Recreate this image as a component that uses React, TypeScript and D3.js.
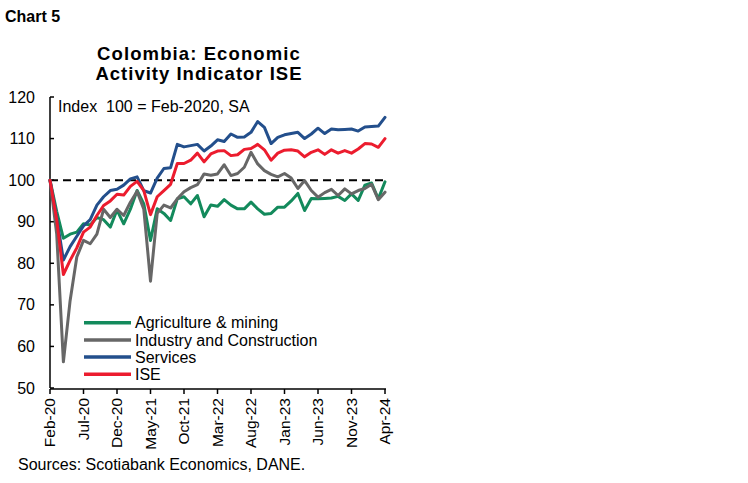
import React from "react";
import * as d3 from "d3";

const months: string[] = d3
  .timeMonths(new Date(2020, 1, 1), new Date(2024, 4, 1))
  .map((d) => d3.timeFormat("%b-%y")(d));

const tickLabels = ["Feb-20", "Jul-20", "Dec-20", "May-21", "Oct-21", "Mar-22", "Aug-22", "Jan-23", "Jun-23", "Nov-23", "Apr-24"];
const yTicks = [50, 60, 70, 80, 90, 100, 110, 120];

const agriculture = [100, 92.5, 86, 87, 87.5, 89.5, 89.2, 91, 90.5, 88.7, 92.8, 89.5, 93, 97.5, 94.3, 85.5, 93.1, 92, 90.3, 95.5, 96, 94.3, 96.3, 91.2, 94, 93.7, 95.3, 94, 93.1, 93.1, 94.7, 93.1, 91.8, 92, 93.5, 93.5, 95, 96.8, 92.7, 95.6, 95.5, 95.6, 95.7, 96.1, 95.1, 96.7, 95.1, 98.8, 99.3, 95.5, 99.6];
const industry = [100, 87, 56.3, 71, 81.5, 85.5, 84.7, 87, 93, 91, 93, 91.5, 94.7, 97.3, 93, 75.7, 92, 94, 93.3, 95.5, 97.2, 98.2, 98.9, 101.5, 101.2, 101.5, 103.7, 101.1, 101.6, 103.1, 106.7, 103.9, 102.3, 101.4, 100.8, 101.6, 100.5, 98, 99.9, 97.5, 95.9, 97, 97.8, 96.3, 97.9, 96.7, 97.5, 98, 99, 95.3, 97.1];
const services = [100, 91, 80.8, 84, 86.5, 89, 90.5, 94, 96, 97.5, 97.8, 98.8, 100.3, 100.8, 97.5, 96.9, 100.5, 102.8, 103, 108.6, 108, 108.3, 108.6, 107, 108.2, 109.7, 109.3, 111.1, 110.3, 110.4, 111.5, 114.1, 112.7, 108.8, 110.3, 110.9, 111.2, 111.5, 110, 111.1, 112.5, 111.2, 112.3, 112.1, 112.2, 112.3, 111.8, 112.8, 112.9, 113, 115.1];
const ise = [100, 90.5, 77.3, 80.7, 83.7, 87.5, 88.7, 91.5, 93.9, 95, 96.6, 96.4, 98.5, 99.7, 97.5, 91.7, 96, 97.5, 99, 104, 104, 104.8, 106.5, 104.4, 106.3, 107, 107.1, 105.9, 106.1, 107.4, 107.6, 108.6, 107.3, 104.8, 106.5, 107.2, 107.3, 107, 105.6, 106.7, 107.3, 106.2, 107.3, 106.5, 107.1, 106.5, 107.5, 108.8, 108.7, 107.9, 110];

const seriesNames = ["Agriculture & mining", "Industry and Construction", "Services", "ISE"];
const seriesColors = ["#138a5c", "#676767", "#234f8c", "#ec1c2e"];
const seriesValues = [agriculture, industry, services, ise];

const FONT = "'Liberation Sans', Arial, sans-serif";

export default function App() {
  const x = d3.scaleLinear().domain([0, months.length - 1]).range([50, 385]);
  const y = d3.scaleLinear().domain([50, 120]).range([388, 97]);
  const line = d3
    .line<number>()
    .x((_, i) => x(i))
    .y((v) => y(v));

  return (
    <svg
      width={748}
      height={483}
      style={{ position: "absolute", left: 0, top: 0, background: "#fff" }}
      fontFamily={FONT}
    >
      <text x={5} y={21.5} fontSize={16} fontWeight="bold" fill="#000">
        Chart 5
      </text>
      <text x={199} y={60} fontSize={18.5} fontWeight="bold" textAnchor="middle" letterSpacing={1.1} fill="#000">
        Colombia: Economic
      </text>
      <text x={199} y={80} fontSize={18.5} fontWeight="bold" textAnchor="middle" letterSpacing={1} fill="#000">
        Activity Indicator ISE
      </text>

      {/* y axis */}
      <line x1={50} x2={50} y1={y(120)} y2={y(50)} stroke="#000" strokeWidth={1.5} />
      {yTicks.map((t) => (
        <g key={t}>
          <line x1={50} x2={54} y1={y(t)} y2={y(t)} stroke="#000" strokeWidth={1.5} />
          <text x={35} y={y(t)} dy="0.35em" textAnchor="end" fontSize={16} fill="#000">
            {t}
          </text>
        </g>
      ))}

      {/* x axis */}
      <line x1={50} x2={386} y1={389} y2={389} stroke="#000" strokeWidth={1.5} />
      {tickLabels.map((lab) => {
        const i = months.indexOf(lab);
        const xx = x(i);
        return (
          <g key={lab}>
            <line x1={xx} x2={xx} y1={389} y2={394} stroke="#000" strokeWidth={1.5} />
            <text
              transform={`translate(${xx},398) rotate(-90)`}
              textAnchor="end"
              dy="0.35em"
              fontSize={15.5}
              fill="#000"
            >
              {lab}
            </text>
          </g>
        );
      })}

      {/* reference line */}
      <line x1={50} x2={385} y1={y(100)} y2={y(100)} stroke="#000" strokeWidth={2} strokeDasharray="8,5" />

      {seriesValues.map((vals, k) => (
        <path
          key={seriesNames[k]}
          d={line(vals) || ""}
          fill="none"
          stroke={seriesColors[k]}
          strokeWidth={3}
          strokeLinejoin="round"
          strokeLinecap="round"
        />
      ))}

      <text x={58} y={106} dy="0.35em" fontSize={16} fill="#000" style={{ whiteSpace: "pre" }}>
        {"Index  100 = Feb-2020, SA"}
      </text>

      {/* legend */}
      {seriesNames.map((name, k) => {
        const ly = 322.7 + k * 17.2;
        return (
          <g key={name}>
            <line x1={84} x2={131} y1={ly} y2={ly} stroke={seriesColors[k]} strokeWidth={3.5} />
            <text x={135} y={ly} dy="0.35em" fontSize={16} fill="#000">
              {name}
            </text>
          </g>
        );
      })}

      <text x={18} y={470} fontSize={16} fill="#000">
        Sources: Scotiabank Economics, DANE.
      </text>
    </svg>
  );
}
